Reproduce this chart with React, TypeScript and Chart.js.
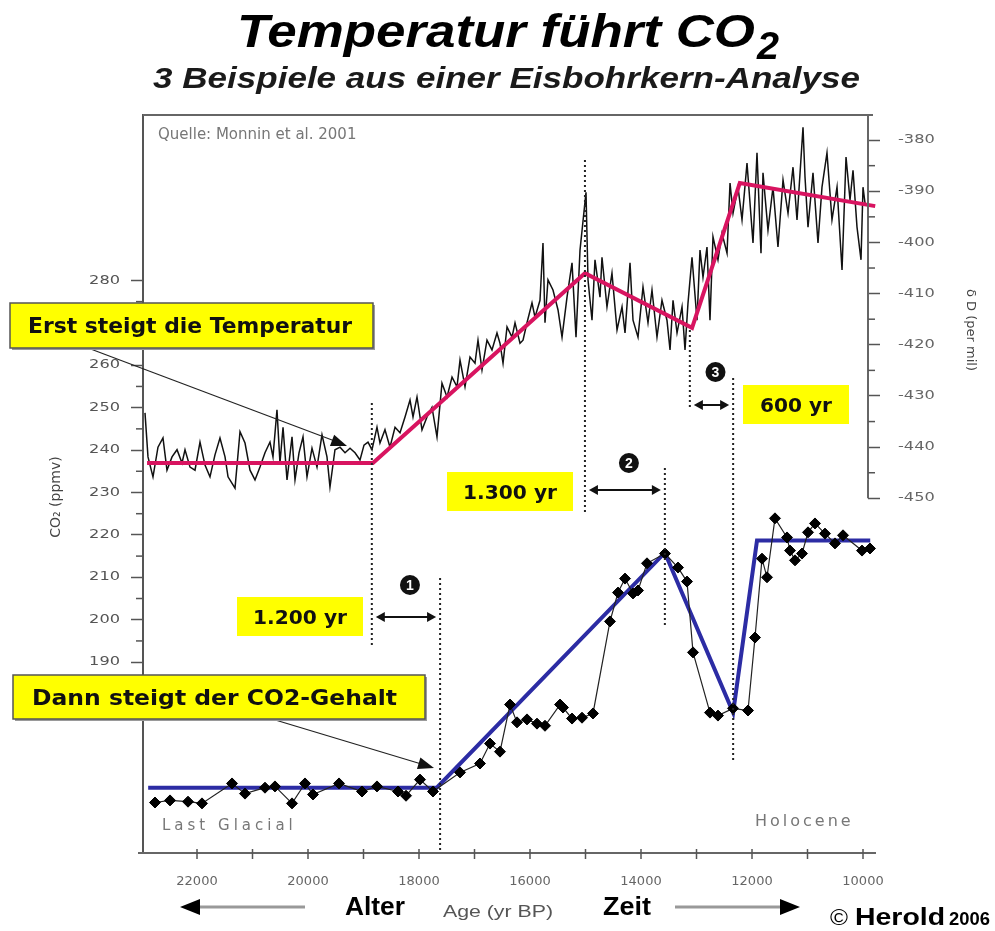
import React, { useEffect, useRef } from "react";
import { Chart, registerables } from "chart.js";

Chart.register(...registerables);

// ---- Data ----
// Temperature proxy deltaD (per mil) vs age (yr BP)
const tempYears = [
  22937, 22883, 22793, 22703, 22613, 22541, 22450, 22360, 22270, 22216,
  22126, 22036, 21946, 21856, 21766, 21676, 21586, 21495, 21441, 21315,
  21225, 21135, 21045, 20955, 20865, 20775, 20685, 20631, 20559, 20505,
  20450, 20378, 20288, 20234, 20162, 20090, 20018, 19928, 19838, 19748,
  19658, 19604, 19514, 19423, 19333, 19243, 19153, 19063, 18991, 18919,
  18847,
  18757, 18703, 18613, 18523, 18432, 18342, 18252, 18162, 18108, 18036,
  17946, 17856, 17766, 17676, 17586, 17495, 17405, 17315, 17261, 17171,
  17081, 16991, 16937, 16865, 16775, 16685, 16595, 16541, 16486, 16414,
  16324, 16270, 16180, 16126, 16054, 15964, 15910, 15820, 15766, 15730,
  15676, 15586, 15495, 15423, 15333, 15243, 15171, 15099,
  14991, 14955, 14883, 14829, 14739, 14703, 14613, 14523, 14432, 14342,
  14288, 14198, 14144, 14054, 13964, 13874, 13802, 13712, 13622, 13532,
  13477, 13423, 13351, 13261, 13207, 13153, 13081, 12991, 12937, 12883,
  12811, 12757, 12703, 12613, 12541, 12450, 12396, 12342, 12252, 12180,
  12090, 12036, 11982, 11910, 11838, 11802, 11712, 11622, 11532, 11441,
  11351, 11261, 11189, 11081, 11045, 10991, 10901, 10811, 10739, 10649,
  10559, 10468, 10378, 10306, 10234, 10180, 10108, 10036, 10000, 9964,
];
const tempDeltaD = [
  -433.3, -441.9, -445.8, -440.0, -438.2, -444.5, -441.9, -440.5, -443.1, -440.5,
  -443.9, -444.5, -439.0, -443.5, -445.8, -441.5, -438.2, -441.9, -445.8, -448.0,
  -437.0, -439.2, -444.5, -446.4, -443.9, -441.1, -439.0, -441.9, -432.7, -443.1,
  -436.1, -446.4, -438.0, -446.4, -441.1, -438.0, -445.8, -440.2, -443.9, -437.6,
  -441.9, -447.8, -440.5, -440.0, -441.1, -440.2, -441.1, -442.5, -439.6, -439.0,
  -440.5,
  -436.1, -439.2, -436.6, -440.0, -436.1, -437.2, -434.1, -430.8, -434.1, -430.2,
  -436.6, -434.1, -432.2, -438.0, -427.5, -430.2, -426.3, -428.2, -423.0, -428.2,
  -422.4, -423.6, -419.1, -424.9, -419.1, -421.0, -417.7, -419.7, -423.6, -416.5,
  -418.5, -415.7, -419.7, -419.1, -415.7, -411.8, -414.6, -411.3, -400.1, -415.7,
  -407.3, -409.3, -413.2, -418.5, -410.7, -404.0, -418.5, -401.5,
  -390.2, -407.3, -415.2, -403.4, -410.7, -402.9, -412.6, -406.0, -417.1, -412.6,
  -417.7, -404.0, -415.2, -418.5, -408.7, -415.7, -409.3, -418.5, -411.3, -415.2,
  -421.0, -411.3, -417.7, -412.6, -421.0, -411.8, -402.9, -415.2, -401.5, -406.8,
  -400.9, -415.2, -398.9, -403.4, -398.2, -402.1, -388.4, -394.3, -389.2, -395.6,
  -384.5, -392.3, -400.1, -382.5, -402.1, -386.4, -397.6, -389.2, -400.9, -387.8,
  -394.3, -385.3, -395.6, -377.5, -387.2, -397.0, -386.4, -400.1, -389.2, -382.5,
  -395.6, -389.2, -405.4, -383.3, -391.7, -385.9, -397.0, -403.4, -389.2, -392.3,
];

// CO2 (ppmv) vs age (yr BP)
const co2Years = [
  22757, 22486, 22162, 21910, 21369, 21135, 20775, 20595, 20288, 20054,
  19910, 19441, 19027, 18757, 18378, 18234, 17982, 17748, 17261, 16901,
  16721, 16541, 16360, 16234, 16054, 15874, 15730, 15459, 15405, 15243,
  15063, 14865, 14559, 14414, 14288, 14144, 14054, 13892, 13568, 13333,
  13171, 13063, 12757, 12613, 12342, 12072, 11946, 11820, 11730, 11586,
  11369, 11315, 11225, 11099, 10991, 10865, 10685, 10505, 10360, 10018,
  9874,
];
const co2Ppmv = [
  156.9, 157.4, 157.1, 156.7, 161.4, 159.0, 160.4, 160.7, 156.7, 161.4,
  158.8, 161.4, 159.5, 160.7, 159.5, 158.5, 162.3, 159.5, 164.0, 166.1,
  170.8, 168.9, 180.0, 175.8, 176.5, 175.5, 175.0, 180.0, 179.3, 176.7,
  176.9, 177.9, 199.6, 206.4, 209.7, 206.2, 206.9, 213.3, 215.6, 212.3,
  209.0, 192.3, 178.1, 177.4, 179.1, 178.6, 195.8, 214.4, 210.0, 223.9,
  219.4, 216.3, 214.0, 215.6, 220.6, 222.7, 220.3, 218.0, 219.9, 216.3,
  216.8,
];

// Piecewise trend lines
const tempTrendYears = [22900, 18830, 15010, 13080, 12220, 9780];
const tempTrendDeltaD = [-443.1, -443.1, -406.0, -416.7, -388.4, -392.9];
const co2TrendYears = [22880, 17680, 13570, 12340, 11910, 9870];
const co2TrendPpmv = [160.4, 160.4, 215.8, 178.1, 218.7, 218.7];

// Axes
const xTickYears = [22000, 20000, 18000, 16000, 14000, 12000, 10000];
const xMinorTickYears = [10000, 11000, 12000, 13000, 14000, 15000, 16000, 17000, 18000, 19000, 20000, 21000, 22000];
const co2TickValues = [190, 200, 210, 220, 230, 240, 250, 260, 270, 280];
const co2MinorTickValues = [195, 205, 215, 225, 235, 245, 255, 265, 275];
const deltaDTickValues = [-450, -440, -430, -420, -410, -400, -390, -380];
const deltaDMinorTickValues = [-445, -435, -425, -415, -405, -395, -385];

// Lead markers (ages of the dotted lines) and lag labels
const leadMarkerYears = [18850, 17620, 15010, 13570, 13120, 12340];
const lagLabels = ["1.200 yr", "1.300 yr", "600 yr"];
const lagNumbers = ["1", "2", "3"];

// ---- Layout (pixels) ----
const W = 995;
const H = 931;
const AREA = { left: 143, right: 868, top: 115, bottom: 853 };
const X_AXIS_END_YEAR = 9766;
const markerSpans = [
  [403, 648], [578, 853], [160, 515], [468, 628], [330, 410], [378, 760],
];
const lagArrowY = [617, 490, 405];
const lagCircleY = [585, 463, 372];
const lagBoxes = [
  { x: 237, y: 597, w: 126, h: 39, tx: 253, tw: 94 },
  { x: 447, y: 472, w: 126, h: 39, tx: 463, tw: 94 },
  { x: 743, y: 385, w: 106, h: 39, tx: 760, tw: 72 },
];
const TICK_LEN = 12;
const Y_PAD = 11;
const Y2_PAD = 18;
const LABEL_STRETCH = 1.35;

const UI = '"DejaVu Sans", Verdana, sans-serif';
const ARIAL = '"Liberation Sans", Arial, Helvetica, sans-serif';
const PINK = "#D81460";
const BLUE = "#2C2CA4";

function seg(ctx: CanvasRenderingContext2D, x1: number, y1: number, x2: number, y2: number) {
  ctx.beginPath();
  ctx.moveTo(x1, y1);
  ctx.lineTo(x2, y2);
  ctx.stroke();
}

function head(ctx: CanvasRenderingContext2D, x1: number, y1: number, x2: number, y2: number, len: number, half: number) {
  const a = Math.atan2(y2 - y1, x2 - x1);
  const c = Math.cos(a), s = Math.sin(a);
  ctx.beginPath();
  ctx.moveTo(x2, y2);
  ctx.lineTo(x2 - len * c + half * s, y2 - len * s - half * c);
  ctx.lineTo(x2 - len * c - half * s, y2 - len * s + half * c);
  ctx.closePath();
  ctx.fill();
}

function fitText(ctx: CanvasRenderingContext2D, text: string, left: number, baseline: number, font: string, width: number, color: string) {
  ctx.save();
  ctx.font = font;
  ctx.fillStyle = color;
  ctx.textAlign = "left";
  ctx.textBaseline = "alphabetic";
  const w = ctx.measureText(text).width;
  ctx.translate(left, baseline);
  ctx.scale(width / w, 1);
  ctx.fillText(text, 0, 0);
  ctx.restore();
}

function yellowBox(ctx: CanvasRenderingContext2D, x: number, y: number, w: number, h: number, framed: boolean) {
  if (framed) {
    ctx.fillStyle = "#9a9a9a";
    ctx.fillRect(x + 2, y + 2, w, h);
  }
  ctx.fillStyle = "#FFFF00";
  ctx.fillRect(x, y, w, h);
  if (framed) {
    ctx.strokeStyle = "#555";
    ctx.lineWidth = 1.5;
    ctx.strokeRect(x, y, w, h);
  }
}

// The original image is horizontally stretched: widen the y tick labels around their anchor
function stretchLabels(chart: any, id: string, anchor: (s: any) => number) {
  const s = chart.scales[id];
  if (!s || s.__stretched) return;
  const orig = s.drawLabels.bind(s);
  s.drawLabels = (area: any) => {
    const ctx = chart.ctx as CanvasRenderingContext2D;
    const ax = anchor(s);
    ctx.save();
    ctx.translate(ax, 0);
    ctx.scale(LABEL_STRETCH, 1);
    ctx.translate(-ax, 0);
    orig(area);
    ctx.restore();
  };
  s.__stretched = true;
}

const overlayPlugin = {
  id: "overlay",
  beforeDraw(chart: any) {
    stretchLabels(chart, "y", (s) => s.right - TICK_LEN - Y_PAD);
    stretchLabels(chart, "y2", (s) => s.left + TICK_LEN + Y2_PAD);
  },
  afterDraw(chart: any) {
    const { ctx, chartArea: ca, scales } = chart;
    const xs = scales.x, ys = scales.y, y2 = scales.y2;
    const X = (v: number) => xs.getPixelForValue(v);
    ctx.save();

    // Frame: top border, right axis, bottom axis
    ctx.strokeStyle = "#666";
    ctx.lineWidth = 2;
    seg(ctx, ca.left, ca.top, ca.right + 5, ca.top);
    seg(ctx, ca.right, ca.top, ca.right, y2.getPixelForValue(-450));
    seg(ctx, ca.left - 5, ca.bottom, X(X_AXIS_END_YEAR), ca.bottom);
    ctx.lineWidth = 1.5;
    ctx.strokeStyle = "#555";
    xMinorTickYears.forEach((yr) => seg(ctx, X(yr), ca.bottom - 4, X(yr), ca.bottom + 6));
    co2MinorTickValues.forEach((v) => seg(ctx, ca.left - 7, ys.getPixelForValue(v), ca.left, ys.getPixelForValue(v)));
    deltaDMinorTickValues.forEach((v) => seg(ctx, ca.right, y2.getPixelForValue(v), ca.right + 7, y2.getPixelForValue(v)));

    // Axis titles
    ctx.fillStyle = "#444";
    ctx.font = `14px ${UI}`;
    ctx.textAlign = "center";
    ctx.textBaseline = "middle";
    ctx.save();
    ctx.translate(56, 497);
    ctx.rotate(-Math.PI / 2);
    ctx.fillText("CO\u2082 (ppmv)", 0, 0);
    ctx.restore();
    ctx.save();
    ctx.translate(970, 330);
    ctx.rotate(Math.PI / 2);
    ctx.font = `13px ${UI}`;
    ctx.fillText("\u03B4 D (per mil)", 0, 0);
    ctx.restore();

    // Source note and period labels
    ctx.textAlign = "left";
    ctx.textBaseline = "alphabetic";
    ctx.fillStyle = "#777";
    ctx.font = `15px ${UI}`;
    ctx.fillText("Quelle: Monnin et al. 2001", 158, 139);
    (ctx as any).letterSpacing = "4px";
    ctx.fillText("Last Glacial", 162, 830);
    ctx.save();
    ctx.beginPath();
    ctx.rect(740, 800, 119, 40);
    ctx.clip();
    ctx.font = `16px ${UI}`;
    (ctx as any).letterSpacing = "3px";
    ctx.fillText("Holocene", 755, 826);
    ctx.restore();
    (ctx as any).letterSpacing = "0px";

    // Dotted lead markers
    ctx.strokeStyle = "#222";
    ctx.lineWidth = 2;
    ctx.setLineDash([2, 3]);
    leadMarkerYears.forEach((yr, i) => seg(ctx, X(yr), markerSpans[i][0], X(yr), markerSpans[i][1]));
    ctx.setLineDash([]);

    // Lag arrows, numbers and labels
    for (let i = 0; i < 3; i++) {
      const xa = X(leadMarkerYears[2 * i]);
      const xb = X(leadMarkerYears[2 * i + 1]);
      const y = lagArrowY[i];
      ctx.strokeStyle = "#111";
      ctx.fillStyle = "#111";
      ctx.lineWidth = 2;
      seg(ctx, xa + 10, y, xb - 10, y);
      head(ctx, xb - 6, y, xa + 4, y, 9, 5);
      head(ctx, xa + 6, y, xb - 4, y, 9, 5);
      const cx = (xa + xb) / 2 + 4;
      ctx.beginPath();
      ctx.arc(cx, lagCircleY[i], 10, 0, Math.PI * 2);
      ctx.fill();
      ctx.fillStyle = "#fff";
      ctx.font = `bold 14px ${ARIAL}`;
      ctx.textAlign = "center";
      ctx.textBaseline = "middle";
      ctx.fillText(lagNumbers[i], cx, lagCircleY[i] + 1);
      const b = lagBoxes[i];
      yellowBox(ctx, b.x, b.y, b.w, b.h, false);
      fitText(ctx, lagLabels[i], b.tx, b.y + 27, `bold 19px ${UI}`, b.tw, "#111");
    }

    // Callout boxes with arrows
    ctx.strokeStyle = "#222";
    ctx.fillStyle = "#111";
    ctx.lineWidth = 1.2;
    seg(ctx, 88, 348, 340, 443);
    head(ctx, 88, 348, 347, 446, 16, 6);
    seg(ctx, 272, 719, 428, 766);
    head(ctx, 272, 719, 434, 768, 16, 6);
    yellowBox(ctx, 10, 303, 363, 45, true);
    fitText(ctx, "Erst steigt die Temperatur", 28, 333, `bold 21px ${UI}`, 324, "#111");
    yellowBox(ctx, 13, 675, 412, 44, true);
    fitText(ctx, "Dann steigt der CO2-Gehalt", 32, 705, `bold 21px ${UI}`, 365, "#111");

    // Title
    fitText(ctx, "Temperatur f\u00FChrt CO", 237, 47, `italic bold 46px ${ARIAL}`, 518, "#000");
    fitText(ctx, "2", 757, 59, `italic bold 38px ${ARIAL}`, 22, "#000");
    fitText(ctx, "3 Beispiele aus einer Eisbohrkern-Analyse", 153, 88, `italic bold 30px ${ARIAL}`, 707, "#1a1a1a");

    // Bottom legend row
    ctx.strokeStyle = "#999";
    ctx.fillStyle = "#000";
    ctx.lineWidth = 3;
    seg(ctx, 305, 907, 195, 907);
    head(ctx, 305, 907, 180, 907, 20, 8);
    seg(ctx, 675, 907, 785, 907);
    head(ctx, 675, 907, 800, 907, 20, 8);
    fitText(ctx, "Alter", 345, 915, `bold 25px ${ARIAL}`, 60, "#000");
    fitText(ctx, "Age (yr BP)", 443, 917, `17px ${ARIAL}`, 110, "#555");
    fitText(ctx, "Zeit", 603, 915, `bold 25px ${ARIAL}`, 48, "#000");
    fitText(ctx, "\u00A9", 830, 925, `22px ${ARIAL}`, 18, "#000");
    fitText(ctx, "Herold", 855, 925, `bold 23px ${ARIAL}`, 90, "#000");
    fitText(ctx, "2006", 949, 925, `bold 18px ${ARIAL}`, 41, "#000");

    ctx.restore();
  },
};

export default function App() {
  const ref = useRef<HTMLCanvasElement>(null);
  useEffect(() => {
    const canvas = ref.current!;
    const toXY = (xs: number[], ys: number[]) => xs.map((x, i) => ({ x, y: ys[i] }));
    const tickFont = { family: UI, size: 12 };
    const chart = new Chart(canvas, {
      type: "line",
      data: {
        datasets: [
          {
            label: "\u03B4D",
            data: toXY(tempYears, tempDeltaD),
            yAxisID: "y2",
            borderColor: "#111",
            borderWidth: 1.5,
            pointRadius: 0,
            tension: 0,
            order: 5,
          },
          {
            label: "\u03B4D trend",
            data: toXY(tempTrendYears, tempTrendDeltaD),
            yAxisID: "y2",
            borderColor: PINK,
            borderWidth: 4,
            pointRadius: 0,
            tension: 0,
            clip: false as any,
            order: 4,
          },
          {
            label: "CO2 trend",
            data: toXY(co2TrendYears, co2TrendPpmv),
            yAxisID: "y",
            borderColor: BLUE,
            borderWidth: 4,
            pointRadius: 0,
            tension: 0,
            clip: false as any,
            order: 3,
          },
          {
            label: "CO2",
            data: toXY(co2Years, co2Ppmv),
            yAxisID: "y",
            borderColor: "#222",
            borderWidth: 1.2,
            pointStyle: "rectRot",
            pointRadius: 5.5,
            pointBackgroundColor: "#000",
            pointBorderColor: "#000",
            pointBorderWidth: 1,
            tension: 0,
            clip: false as any,
            order: 2,
          },
        ],
      },
      options: {
        responsive: false,
        animation: false,
        events: [],
        layout: { padding: { top: AREA.top, left: 0, right: 0, bottom: 0 } },
        plugins: {
          legend: { display: false },
          tooltip: { enabled: false },
          title: { display: false },
        },
        scales: {
          x: {
            type: "linear",
            reverse: true,
            min: 9910,
            max: 22973,
            afterFit: (s: any) => { s.height = H - AREA.bottom; },
            afterBuildTicks: (s: any) => { s.ticks = xTickYears.map((value) => ({ value })); },
            grid: { display: false, drawTicks: false },
            border: { display: false },
            ticks: { padding: 21, color: "#666", font: { family: UI, size: 13 }, autoSkip: false, maxRotation: 0, callback: (v: any) => String(v) },
          },
          y: {
            type: "linear",
            position: "left",
            min: 145,
            max: 319,
            afterFit: (s: any) => { s.width = AREA.left; },
            afterBuildTicks: (s: any) => { s.ticks = co2TickValues.map((value) => ({ value })); },
            grid: { drawOnChartArea: false, drawTicks: true, tickLength: TICK_LEN, tickColor: "#555", tickWidth: 1.5 },
            border: { display: true, color: "#555", width: 2 },
            ticks: { padding: Y_PAD, color: "#555", font: tickFont, autoSkip: false, callback: (v: any) => String(v) },
          },
          y2: {
            type: "linear",
            position: "right",
            min: -519.3,
            max: -375.1,
            afterFit: (s: any) => { s.width = W - AREA.right; },
            afterBuildTicks: (s: any) => { s.ticks = deltaDTickValues.map((value) => ({ value })); },
            grid: { drawOnChartArea: false, drawTicks: true, tickLength: TICK_LEN, tickColor: "#555", tickWidth: 1.5 },
            border: { display: false },
            ticks: { padding: Y2_PAD, color: "#666", font: tickFont, autoSkip: false, callback: (v: any) => String(v) },
          },
        },
      } as any,
      plugins: [overlayPlugin],
    });
    return () => chart.destroy();
  }, []);
  return (
    <div style={{ position: "fixed", left: 0, top: 0, width: W, height: H, background: "#fff" }}>
      <canvas ref={ref} width={W} height={H} style={{ display: "block" }} />
    </div>
  );
}
